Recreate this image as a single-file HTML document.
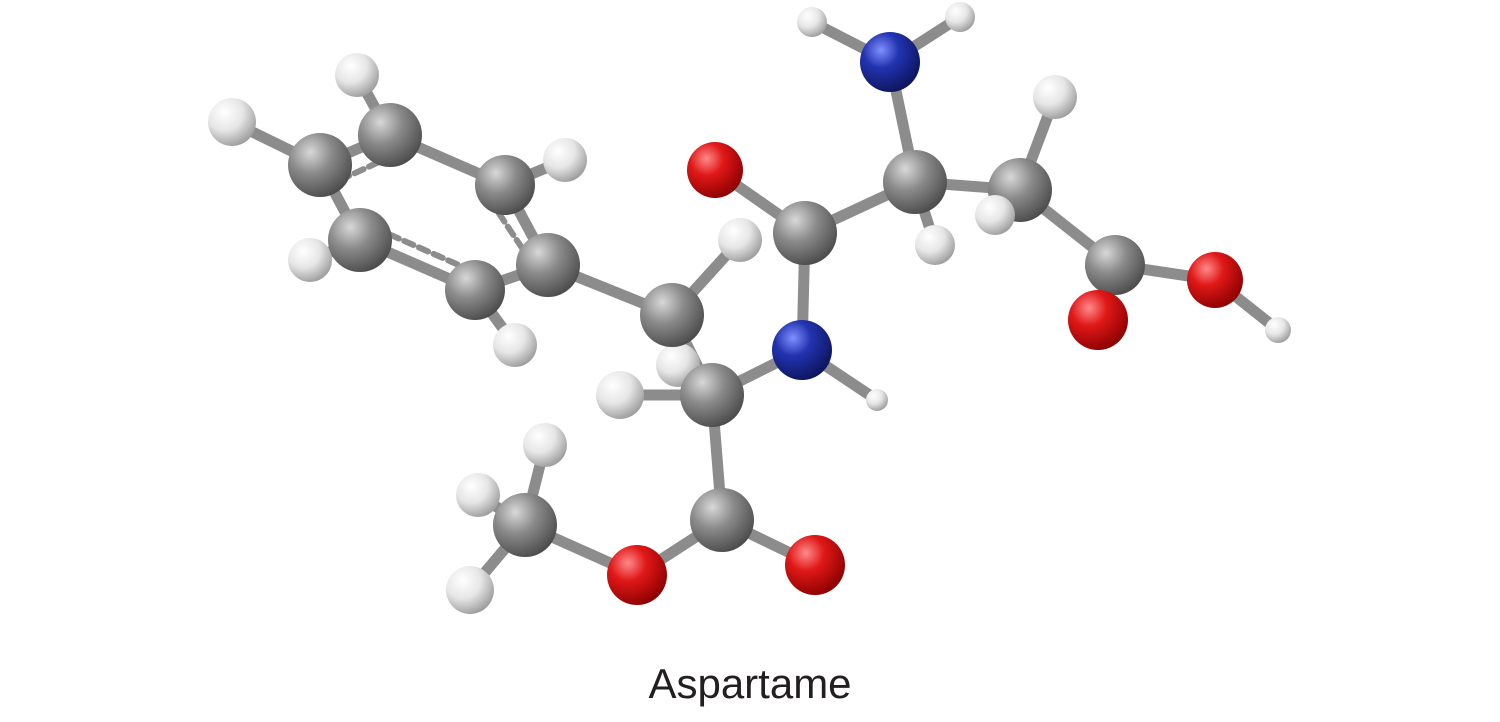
<!DOCTYPE html>
<html><head><style>
html,body{margin:0;padding:0;background:#fff;width:1500px;height:722px;overflow:hidden}
.t{position:absolute;left:0;width:1500px;top:660px;text-align:center;font-family:"Liberation Sans",sans-serif;font-size:42px;color:#231f20}
</style></head><body>
<svg width="1500" height="722" style="position:absolute;left:0;top:0">
<defs>
<radialGradient id="gC" cx="0.35" cy="0.3" r="0.75"><stop offset="0" stop-color="#d8d8d8"/><stop offset="0.45" stop-color="#8a8a8a"/><stop offset="1" stop-color="#4a4a4a"/></radialGradient>
<radialGradient id="gH" cx="0.35" cy="0.3" r="0.75"><stop offset="0" stop-color="#ffffff"/><stop offset="0.5" stop-color="#e6e6e6"/><stop offset="1" stop-color="#9a9a9a"/></radialGradient>
<radialGradient id="gO" cx="0.35" cy="0.3" r="0.75"><stop offset="0" stop-color="#ff8a8a"/><stop offset="0.4" stop-color="#e01818"/><stop offset="1" stop-color="#8a0000"/></radialGradient>
<radialGradient id="gN" cx="0.35" cy="0.3" r="0.75"><stop offset="0" stop-color="#8090ff"/><stop offset="0.4" stop-color="#2233b0"/><stop offset="1" stop-color="#0c145a"/></radialGradient>
</defs>
<g stroke-width="11" stroke-linecap="round">
<g stroke="#8c8c8c">
<line x1="320" y1="165" x2="390" y2="135"/><line x1="390" y1="135" x2="505" y2="185"/>
<line x1="505" y1="185" x2="548" y2="265"/><line x1="548" y1="265" x2="475" y2="290"/>
<line x1="475" y1="290" x2="360" y2="240"/><line x1="360" y1="240" x2="320" y2="165"/>
<line x1="548" y1="265" x2="672" y2="315"/><line x1="672" y1="315" x2="712" y2="395"/>
<line x1="712" y1="395" x2="722" y2="520"/><line x1="722" y1="520" x2="637" y2="575"/>
<line x1="525" y1="525" x2="637" y2="575"/>
<line x1="805" y1="233" x2="915" y2="182"/><line x1="915" y1="182" x2="1020" y2="190"/>
<line x1="1020" y1="190" x2="1115" y2="265"/><line x1="712" y1="395" x2="802" y2="350"/>
<line x1="802" y1="350" x2="805" y2="233"/><line x1="915" y1="182" x2="890" y2="62"/>
<line x1="805" y1="233" x2="715" y2="170"/><line x1="722" y1="520" x2="815" y2="565"/>
<line x1="1115" y1="265" x2="1098" y2="320"/><line x1="1115" y1="265" x2="1215" y2="280"/>
<line x1="320" y1="165" x2="232" y2="122"/><line x1="390" y1="135" x2="357" y2="75"/>
<line x1="505" y1="185" x2="565" y2="160"/><line x1="360" y1="240" x2="310" y2="260"/>
<line x1="475" y1="290" x2="515" y2="345"/><line x1="672" y1="315" x2="740" y2="240"/>
<line x1="712" y1="395" x2="620" y2="395"/><line x1="915" y1="182" x2="935" y2="245"/>
<line x1="1020" y1="190" x2="1055" y2="97"/><line x1="1020" y1="190" x2="995" y2="215"/>
<line x1="525" y1="525" x2="545" y2="445"/><line x1="525" y1="525" x2="478" y2="495"/><line x1="525" y1="525" x2="470" y2="590"/>
<line x1="802" y1="350" x2="877" y2="400"/><line x1="890" y1="62" x2="812" y2="22"/><line x1="890" y1="62" x2="960" y2="17"/>
<line x1="1215" y1="280" x2="1278" y2="330"/>
</g>
<g stroke="#8c8c8c" stroke-dasharray="10 6" stroke-width="6">
<line x1="340" y1="180" x2="405" y2="150"/><line x1="375" y1="228" x2="470" y2="270"/><line x1="490" y1="200" x2="530" y2="260"/>
</g>
</g>
<g>
<circle cx="678" cy="365" r="22" fill="url(#gH)"/>
<circle cx="232" cy="122" r="24" fill="url(#gH)"/><circle cx="357" cy="75" r="22" fill="url(#gH)"/>
<circle cx="320" cy="165" r="32" fill="url(#gC)"/><circle cx="390" cy="135" r="32" fill="url(#gC)"/>
<circle cx="310" cy="260" r="22" fill="url(#gH)"/><circle cx="360" cy="240" r="32" fill="url(#gC)"/>
<circle cx="565" cy="160" r="22" fill="url(#gH)"/><circle cx="505" cy="185" r="30" fill="url(#gC)"/>
<circle cx="515" cy="345" r="22" fill="url(#gH)"/><circle cx="475" cy="290" r="30" fill="url(#gC)"/>
<circle cx="548" cy="265" r="32" fill="url(#gC)"/>
<circle cx="740" cy="240" r="22" fill="url(#gH)"/><circle cx="672" cy="315" r="32" fill="url(#gC)"/>
<circle cx="620" cy="395" r="24" fill="url(#gH)"/><circle cx="712" cy="395" r="32" fill="url(#gC)"/>
<circle cx="877" cy="400" r="11" fill="url(#gH)"/><circle cx="802" cy="350" r="30" fill="url(#gN)"/>
<circle cx="715" cy="170" r="28" fill="url(#gO)"/><circle cx="805" cy="233" r="32" fill="url(#gC)"/>
<circle cx="812" cy="22" r="15" fill="url(#gH)"/><circle cx="960" cy="17" r="15" fill="url(#gH)"/>
<circle cx="890" cy="62" r="30" fill="url(#gN)"/>
<circle cx="935" cy="245" r="20" fill="url(#gH)"/><circle cx="915" cy="182" r="32" fill="url(#gC)"/>
<circle cx="1055" cy="97" r="22" fill="url(#gH)"/><circle cx="1020" cy="190" r="32" fill="url(#gC)"/>
<circle cx="995" cy="215" r="20" fill="url(#gH)"/>
<circle cx="1115" cy="265" r="30" fill="url(#gC)"/><circle cx="1098" cy="320" r="30" fill="url(#gO)"/>
<circle cx="1278" cy="330" r="13" fill="url(#gH)"/><circle cx="1215" cy="280" r="28" fill="url(#gO)"/>
<circle cx="545" cy="445" r="22" fill="url(#gH)"/><circle cx="478" cy="495" r="22" fill="url(#gH)"/>
<circle cx="525" cy="525" r="32" fill="url(#gC)"/><circle cx="470" cy="590" r="24" fill="url(#gH)"/>
<circle cx="637" cy="575" r="30" fill="url(#gO)"/><circle cx="722" cy="520" r="32" fill="url(#gC)"/>
<circle cx="815" cy="565" r="30" fill="url(#gO)"/>
</g>
</svg>
<div class="t">Aspartame</div>
</body></html>
